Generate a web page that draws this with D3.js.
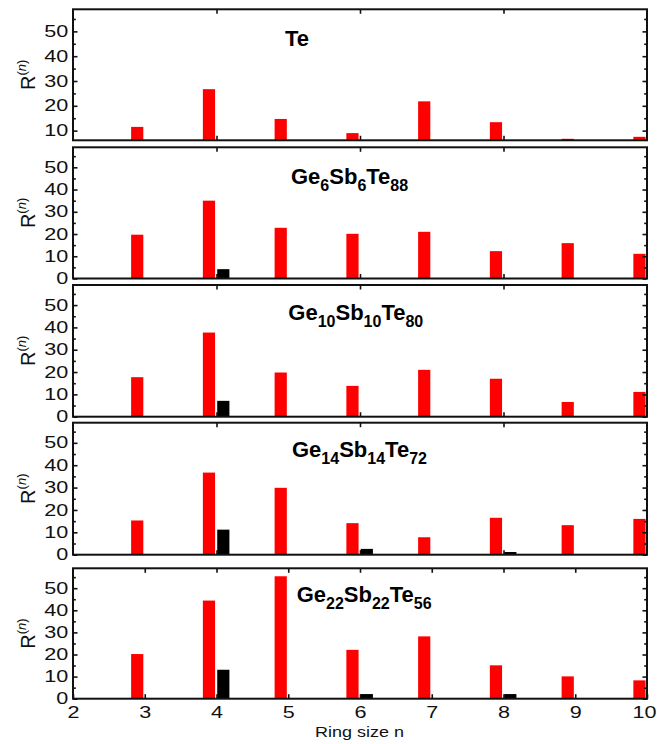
<!DOCTYPE html>
<html>
<head>
<meta charset="utf-8">
<script src="https://cdn.jsdelivr.net/npm/d3@7"></script>
<style>
  html, body { margin: 0; padding: 0; background: #fff; }
  svg { display: block; font-family: "Liberation Sans", Arial, Helvetica, sans-serif; }
</style>
</head>
<body>
<svg id="chart" width="657" height="744"></svg>
<script>
// ---------------- data ----------------
const ringSizes = [3, 4, 5, 6, 7, 8, 9, 10];

const redTe      = [11.5, 26.7, 14.7, 9.0, 21.8, 13.4, 6.7, 7.5];
const blackTe    = [0, 0, 0, 0, 0, 0, 0, 0];
const redG6      = [19.7, 35.0, 22.8, 20.1, 21.0, 12.3, 15.9, 11.1];
const blackG6    = [0, 4.2, 0, 0, 0, 0, 0, 0];
const redG10     = [17.7, 37.7, 19.8, 13.8, 21.0, 17.0, 6.6, 11.1];
const blackG10   = [0, 7.1, 0, 0, 0, 0, 0, 0];
const redG14     = [15.3, 36.7, 29.9, 14.1, 7.8, 16.5, 13.2, 16.0];
const blackG14   = [0, 11.2, 0, 2.6, 0, 1.2, 0, 0];
const redG22     = [20.2, 44.4, 55.4, 22.1, 28.2, 15.1, 10.1, 8.3];
const blackG22   = [0, 13.1, 0, 2.1, 0, 2.1, 0, 0];

const titleTe  = [["Te", ""]];
const titleG6  = [["Ge", "6"], ["Sb", "6"], ["Te", "88"]];
const titleG10 = [["Ge", "10"], ["Sb", "10"], ["Te", "80"]];
const titleG14 = [["Ge", "14"], ["Sb", "14"], ["Te", "72"]];
const titleG22 = [["Ge", "22"], ["Sb", "22"], ["Te", "56"]];

const yMajorTicksTop = [10, 20, 30, 40, 50];
const yMinorTicksTop = [15, 25, 35, 45, 55];
const yMajorTicks = [0, 10, 20, 30, 40, 50];
const yMinorTicks = [5, 15, 25, 35, 45, 55];
const xTickLabels = [2, 3, 4, 5, 6, 7, 8, 9, 10];
const xTicksSparse = [4, 6, 8];
const xTicksInner = [3, 4, 5, 6, 7, 8, 9];

const xLabel = "Ring size n";
const yLabelMain = "R";
const yLabelSup = "(n)";

// ---------------- layout ----------------
const svg = d3.select("#chart");
const left = 73, right = 647;
const x = d3.scaleLinear().domain([2, 10]).range([left, right]);

const panels = [
  { red: redTe,  black: blackTe,  title: titleTe,  top: 9.3,   bottom: 140.3, yDom: [6.1, 58.9], major: yMajorTicksTop, minor: yMinorTicksTop, tx: 285,   ty: 46 },
  { red: redG6,  black: blackG6,  title: titleG6,  top: 147.3, bottom: 278.5, yDom: [0, 59],     major: yMajorTicks,    minor: yMinorTicks,    tx: 291,   ty: 184.3 },
  { red: redG10, black: blackG10, title: titleG10, top: 285,   bottom: 416.7, yDom: [0, 59],     major: yMajorTicks,    minor: yMinorTicks,    tx: 288.3, ty: 320 },
  { red: redG14, black: blackG14, title: titleG14, top: 422.7, bottom: 554.7, yDom: [0, 59],     major: yMajorTicks,    minor: yMinorTicks,    tx: 292,   ty: 457.3 },
  { red: redG22, black: blackG22, title: titleG22, top: 568.3, bottom: 698.7, yDom: [0, 59],     major: yMajorTicks,    minor: yMinorTicks,    tx: 296.7, ty: 601.7 }
];

const redOff0 = -0.19, redOff1 = -0.02;
const blkOff0 = 0.01, blkOff1 = 0.18;
const labelScale = 1.35;

panels.forEach((p, i) => {
  const isLast = i === panels.length - 1;
  const y = d3.scaleLinear().domain(p.yDom).range([p.bottom, p.top]);
  const g = svg.append("g");

  const clipId = "clip" + i;
  svg.append("clipPath").attr("id", clipId)
    .append("rect").attr("x", left).attr("y", p.top)
    .attr("width", right - left).attr("height", p.bottom - p.top);

  const bars = g.append("g").attr("clip-path", `url(#${clipId})`);
  const recs = ringSizes.map((n, k) => ({ n, r: p.red[k], b: p.black[k] }));

  bars.selectAll("rect.red").data(recs).join("rect")
    .attr("class", "red")
    .attr("x", d => x(d.n + redOff0))
    .attr("width", d => x(d.n + redOff1) - x(d.n + redOff0))
    .attr("y", d => y(Math.max(d.r, p.yDom[0])))
    .attr("height", d => y(p.yDom[0]) - y(Math.max(d.r, p.yDom[0])))
    .attr("fill", "#ff0000");

  bars.selectAll("rect.blk").data(recs.filter(d => d.b > 0)).join("rect")
    .attr("class", "blk")
    .attr("x", d => x(d.n + blkOff0))
    .attr("width", d => x(d.n + blkOff1) - x(d.n + blkOff0))
    .attr("y", d => y(Math.max(d.b, p.yDom[0])))
    .attr("height", d => y(p.yDom[0]) - y(Math.max(d.b, p.yDom[0])))
    .attr("fill", "#000");

  // y axes (left with labels, right without)
  const yl = g.append("g").attr("transform", `translate(${left},0)`)
    .call(d3.axisLeft(y).tickValues(p.major).tickSize(-4.5).tickPadding(3.6).tickFormat(d3.format("d")));
  yl.select(".domain").remove();
  yl.selectAll("text").attr("font-size", 16).attr("font-family", null).attr("fill", "#111")
    .attr("transform", `scale(${labelScale},1)`);
  const ylm = g.append("g").attr("transform", `translate(${left},0)`)
    .call(d3.axisLeft(y).tickValues(p.minor).tickSize(-2.8).tickFormat(""));
  ylm.select(".domain").remove();

  const yr = g.append("g").attr("transform", `translate(${right},0)`)
    .call(d3.axisRight(y).tickValues(p.major).tickSize(-4.5).tickFormat(""));
  yr.select(".domain").remove();
  const yrm = g.append("g").attr("transform", `translate(${right},0)`)
    .call(d3.axisRight(y).tickValues(p.minor).tickSize(-2.8).tickFormat(""));
  yrm.select(".domain").remove();

  // x axes
  const topTicks = isLast ? xTicksInner : xTicksSparse;
  const bottomTicks = isLast ? xTickLabels : xTicksSparse;
  const xt = g.append("g").attr("transform", `translate(0,${p.top})`)
    .call(d3.axisTop(x).tickValues(topTicks).tickSize(-4.5).tickFormat(""));
  xt.select(".domain").remove();
  const xb = g.append("g").attr("transform", `translate(0,${p.bottom})`)
    .call(d3.axisBottom(x).tickValues(bottomTicks).tickSize(-4.5).tickFormat(""));
  xb.select(".domain").remove();

  g.selectAll(".tick line").attr("stroke", "#111").attr("stroke-width", 1.6);

  if (isLast) {
    const xl = g.append("g").attr("transform", `translate(0,${p.bottom})`)
      .call(d3.axisBottom(x).tickValues(xTickLabels).tickSize(0).tickPadding(0).tickFormat(d3.format("d")));
    xl.select(".domain").remove();
    xl.selectAll("text").attr("font-size", 16).attr("font-family", null).attr("fill", "#111")
      .attr("dy", null).attr("y", 19.6)
      .attr("transform", `scale(${labelScale},1)`);
    // last label sits at the right edge: keep it inside the page
    xl.selectAll(".tick").filter(d => d === 10).select("text")
      .attr("text-anchor", "end").attr("x", (656 - right) / labelScale);
  }

  // frame
  g.append("rect").attr("x", left).attr("y", p.top)
    .attr("width", right - left).attr("height", p.bottom - p.top)
    .attr("fill", "none").attr("stroke", "#111").attr("stroke-width", 2);

  // y label R^(n)
  const cy = (p.top + p.bottom) / 2;
  const yt = g.append("text")
    .attr("transform", `translate(35,${cy}) rotate(-90)`)
    .attr("text-anchor", "middle").attr("font-size", 20).attr("fill", "#111");
  yt.append("tspan").text(yLabelMain);
  yt.append("tspan").attr("dy", -9).attr("font-size", 13).text(yLabelSup.slice(0, 1));
  yt.append("tspan").attr("font-size", 13).attr("font-style", "italic").text(yLabelSup.slice(1, 2));
  yt.append("tspan").attr("font-size", 13).text(yLabelSup.slice(2));

  // title with subscripts
  const tt = g.append("text").attr("x", p.tx).attr("y", p.ty)
    .attr("font-weight", "bold").attr("font-size", 22).attr("fill", "#000");
  let prevSub = false;
  p.title.forEach(([el, sub]) => {
    tt.append("tspan").attr("dy", prevSub ? -7 : 0).text(el);
    if (sub) tt.append("tspan").attr("dy", 7).attr("font-size", 16).text(sub);
    prevSub = !!sub;
  });
});

// x-axis label
svg.append("text").attr("x", 359.5).attr("y", 737.3)
  .attr("text-anchor", "middle").attr("font-size", 15).attr("fill", "#111")
  .attr("transform", `translate(359.5,0) scale(1.2,1) translate(-359.5,0)`)
  .text(xLabel);
</script>
</body>
</html>
